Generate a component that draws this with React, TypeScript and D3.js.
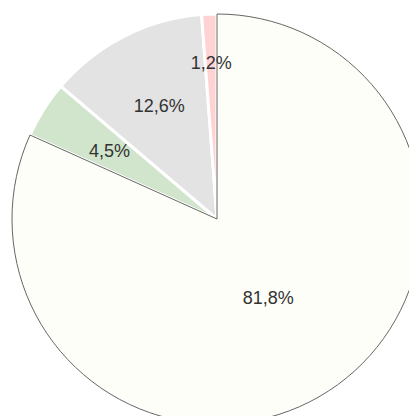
import React from "react";
import * as d3 from "d3";

const labels = ["A", "B", "C", "D"];
const values = [81.8, 4.5, 12.6, 1.2];
const colors = ["#fefef8", "#d1e4cc", "#e3e3e3", "#ffd2d4"];

const width = 409;
const height = 416;

export default function App() {
  const cx = 217;
  const cy = 219;
  const radius = 205;

  const pie = d3
    .pie<number>()
    .sort(null)
    .value((d) => d);
  const arcs = pie(values);
  const arc = d3.arc<d3.PieArcDatum<number>>().innerRadius(0).outerRadius(radius);

  // labels sit further out on the thin slices
  const labelRadius = (share: number) =>
    radius * (share > 50 ? 0.46 : share < 2 ? 0.76 : 0.62);

  const fmt = (v: number) => v.toFixed(1).replace(".", ",") + "%";

  return (
    <svg
      width={width}
      height={height}
      style={{ position: "absolute", left: 0, top: 0, background: "#fff" }}
    >
      <g transform={`translate(${cx},${cy})`}>
        {arcs.map((a, i) =>
          i === 0 ? null : (
            <path key={labels[i]} d={arc(a) || ""} fill={colors[i]} stroke="#fff" strokeWidth={3} />
          )
        )}
        <path d={arc(arcs[0]) || ""} fill={colors[0]} stroke="#666" strokeWidth={1} />
        {arcs.map((a, i) => {
          const mid = (a.startAngle + a.endAngle) / 2;
          const r = labelRadius(a.data);
          return (
            <text
              key={"t" + labels[i]}
              x={Math.sin(mid) * r}
              y={-Math.cos(mid) * r}
              textAnchor="middle"
              dominantBaseline="central"
              fontFamily="'Liberation Sans', Arial, sans-serif"
              fontSize={18}
              fill="#333"
            >
              {fmt(a.data)}
            </text>
          );
        })}
      </g>
    </svg>
  );
}
